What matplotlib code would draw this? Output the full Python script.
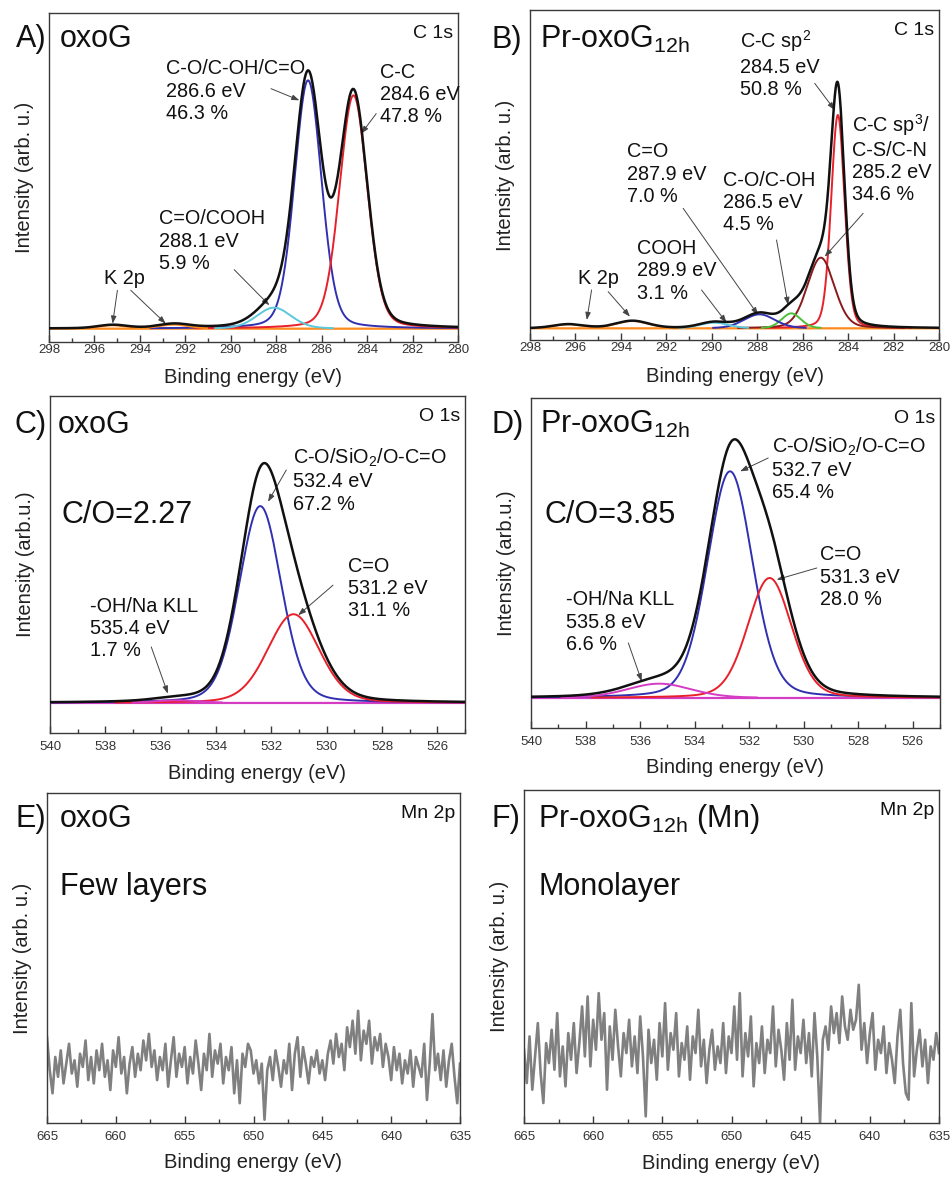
import numpy as np
import matplotlib
matplotlib.use('Agg')
import matplotlib.pyplot as plt
from matplotlib.ticker import MultipleLocator

plt.rcParams['font.family'] = ['Liberation Sans', 'DejaVu Sans']
plt.rcParams['mathtext.fontset'] = 'custom'
plt.rcParams['mathtext.rm'] = 'Liberation Sans'
plt.rcParams['mathtext.it'] = 'Liberation Sans:italic'
plt.rcParams['mathtext.bf'] = 'Liberation Sans:bold'

# ---------------- DATA ----------------
# Panel A (oxoG, C 1s): fitted components  [C-O/C-OH/C=O, C-C, C=O/COOH, K2p a, K2p b]
a_centers = [286.6, 284.6, 288.1, 295.2, 292.5]
a_heights = [745, 700, 63, 10, 12]
a_fwhm = [1.4, 1.45, 1.8, 1.5, 1.6]

# Panel B (Pr-oxoG12h, C 1s): [sp2, sp3/C-S/C-N, C-O/C-OH, C=O, COOH, K2p a, K2p b]
b_centers = [284.45, 285.2, 286.5, 287.9, 289.9, 296.3, 293.5]
b_heights = [640, 212, 45, 42, 17, 12, 22]
b_fwhm = [0.7, 1.4, 1.0, 1.6, 1.5, 1.6, 1.7]

# Panel C (oxoG, O 1s): [C-O/SiO2/O-C=O, C=O, -OH/Na KLL]
c_centers = [532.4, 531.2, 535.4]
c_heights = [590, 266, 8]
c_fwhm = [1.8, 2.2, 2.0]

# Panel D (Pr-oxoG12h, O 1s): [C-O/SiO2/O-C=O, C=O, -OH/Na KLL]
d_centers = [532.7, 531.25, 535.3]
d_heights = [680, 360, 43]
d_fwhm = [1.95, 1.9, 2.8]

# Panel E (oxoG, Mn 2p) noise spectrum, 665 -> 635 eV in 0.2 eV steps
e_intensity = [
    0.26, 0.16, 0.09, 0.20, 0.14, 0.22, 0.12, 0.18, 0.24, 0.15,
    0.19, 0.11, 0.21, 0.17, 0.25, 0.13, 0.20, 0.12, 0.22, 0.16,
    0.24, 0.14, 0.19, 0.10, 0.22, 0.17, 0.26, 0.15, 0.20, 0.09,
    0.18, 0.23, 0.14, 0.21, 0.16, 0.25, 0.19, 0.27, 0.17, 0.22,
    0.13, 0.20, 0.16, 0.24, 0.11, 0.19, 0.26, 0.14, 0.21, 0.17,
    0.23, 0.12, 0.20, 0.15, 0.25, 0.18, 0.10, 0.21, 0.16, 0.27,
    0.14, 0.22, 0.18, 0.24, 0.12, 0.20, 0.16, 0.23, 0.09, 0.19,
    0.06, 0.21, 0.17, 0.24, 0.22, 0.15, 0.19, 0.12, 0.18, 0.01,
    0.16, 0.20, 0.13, 0.22, 0.17, 0.11, 0.19, 0.15, 0.24, 0.10,
    0.21, 0.26, 0.14, 0.23, 0.18, 0.12, 0.20, 0.17, 0.22, 0.15,
    0.19, 0.13, 0.21, 0.25, 0.18, 0.27, 0.20, 0.24, 0.16, 0.29,
    0.23, 0.31, 0.21, 0.34, 0.19, 0.28, 0.24, 0.31, 0.18, 0.26,
    0.22, 0.27, 0.17, 0.24, 0.20, 0.13, 0.23, 0.16, 0.21, 0.12,
    0.19, 0.15, 0.22, 0.11, 0.20, 0.17, 0.14, 0.24, 0.07, 0.18,
    0.33, 0.16, 0.21, 0.13, 0.22, 0.11, 0.19, 0.24, 0.14, 0.06, 0.18]

# Panel F (Pr-oxoG12h (Mn), Mn 2p) noise spectrum, 665 -> 635 eV in 0.2 eV steps
f_intensity = [
    0.22, 0.12, 0.26, 0.10, 0.20, 0.30, 0.15, 0.06, 0.24, 0.18,
    0.28, 0.16, 0.33, 0.14, 0.23, 0.11, 0.27, 0.19, 0.30, 0.15,
    0.24, 0.35, 0.20, 0.38, 0.17, 0.31, 0.22, 0.39, 0.25, 0.33,
    0.10, 0.29, 0.19, 0.34, 0.23, 0.14, 0.27, 0.21, 0.31, 0.17,
    0.26, 0.15, 0.32, 0.20, 0.02, 0.28, 0.18, 0.25, 0.13, 0.30,
    0.20, 0.36, 0.16, 0.27, 0.22, 0.33, 0.14, 0.24, 0.19, 0.29,
    0.13, 0.26, 0.21, 0.34, 0.17, 0.25, 0.12, 0.22, 0.28, 0.16,
    0.23, 0.18, 0.30, 0.15, 0.26, 0.21, 0.35, 0.19, 0.39, 0.14,
    0.27, 0.20, 0.32, 0.11, 0.24, 0.18, 0.29, 0.15, 0.25, 0.21,
    0.35, 0.17, 0.28, 0.22, 0.13, 0.30, 0.19, 0.37, 0.16, 0.26,
    0.21, 0.31, 0.18, 0.27, 0.14, 0.33, 0.20, 0.00, 0.25, 0.29,
    0.22, 0.35, 0.27, 0.33, 0.24, 0.38, 0.29, 0.25, 0.34, 0.28,
    0.31, 0.415, 0.22, 0.30, 0.18, 0.27, 0.33, 0.16, 0.25, 0.21,
    0.29, 0.15, 0.24, 0.19, 0.12, 0.26, 0.34, 0.18, 0.09, 0.07,
    0.36, 0.14, 0.22, 0.28, 0.17, 0.25, 0.12, 0.23, 0.19, 0.27, 0.21]
mn_start, mn_step = 665.0, -0.2

# ---------------- STYLE ----------------
BLK = '#111111'
BLUE = '#3030b0'
RED = '#e8202a'
CYAN = '#5cc8dc'
ORANGE = '#ff8a1c'
DRED = '#8b1a1a'
GREEN = '#4cc03a'
MAG = '#d43cc4'
GREY = '#808080'
FRAME = '#3a3a3a'

a_colors = [BLUE, RED, CYAN, ORANGE, ORANGE]
b_colors = [RED, DRED, GREEN, BLUE, CYAN, ORANGE, ORANGE]
c_colors = [BLUE, RED, MAG]
d_colors = [BLUE, RED, MAG]

ANN_FS = 14.3
LAB_FS = 14.5
TICK_FS = 9.5
BIG_FS = 22
CORNER_FS = 14


def pv(x, c, h, w, eta=0.2):
    s = w / 2.3548
    g = np.exp(-0.5 * ((x - c) / s) ** 2)
    l = 1.0 / (1.0 + ((x - c) / (w / 2.0)) ** 2)
    return h * (eta * l + (1 - eta) * g)


fig = plt.figure(figsize=(9.5, 11.77), dpi=100)
W, H = 950.0, 1177.0


def add_ax(left, top, right, bottom):
    return fig.add_axes([left / W, 1 - bottom / H, (right - left) / W, (bottom - top) / H])


def setup(ax, xlim, ylim, major, minor, pad, xlab_y, ylabel):
    ax.set_xlim(*xlim)
    ax.set_ylim(*ylim)
    ax.xaxis.set_major_locator(MultipleLocator(major))
    ax.xaxis.set_minor_locator(MultipleLocator(minor))
    ax.tick_params(axis='x', which='both', direction='in', top=False,
                   labelsize=TICK_FS, pad=pad, color=FRAME, labelcolor='#333333')
    ax.tick_params(axis='x', which='major', length=5, width=1)
    ax.tick_params(axis='x', which='minor', length=3, width=1)
    ax.set_yticks([])
    for sp in ax.spines.values():
        sp.set_color(FRAME)
        sp.set_linewidth(1.0)
    ax.set_xlabel('Binding energy (eV)', fontsize=LAB_FS, color='#222222')
    ax.xaxis.set_label_coords(0.5, xlab_y)
    ax.xaxis.label.set_va('center')
    ax.set_ylabel(ylabel, fontsize=LAB_FS, color='#222222')
    ax.yaxis.set_label_coords(-0.06, 0.5)
    ax.yaxis.label.set_va('center')


def titles(ax, letter, lx, name, nx, ny, corner):
    ax.text(lx, ny, letter, transform=ax.transAxes, fontsize=BIG_FS, va='baseline',
            ha='left', clip_on=False, color='#111111')
    ax.text(nx, ny, name, transform=ax.transAxes, fontsize=BIG_FS, va='baseline',
            ha='left', color='#111111')
    ax.text(0.988, 0.965, corner, transform=ax.transAxes, fontsize=CORNER_FS,
            va='top', ha='right', color='#111111')


ARROW = dict(arrowstyle='-|>,head_length=0.45,head_width=0.16',
             color='#444444', lw=0.7, shrinkA=0, shrinkB=0)


def ann(ax, text, txy, tail, head):
    ax.text(txy[0], txy[1], text, fontsize=ANN_FS, va='top', ha='left',
            linespacing=1.22, color='#111111')
    ax.annotate('', xy=head, xytext=tail, arrowprops=ARROW)


def fit_panel(ax, xlim, centers, heights, fwhm, colors, base_color, thresh=1.5):
    x = np.linspace(min(xlim), max(xlim), 1501)
    total = np.zeros_like(x)
    ax.plot(x, np.zeros_like(x), color=base_color, lw=1.6, zorder=2)
    for c, h, w, col in zip(centers, heights, fwhm, colors):
        y = pv(x, c, h, w)
        total += y
        yy = np.where(y > thresh, y, np.nan)
        ax.plot(x, yy, color=col, lw=1.4, zorder=3)
    ax.plot(x, total, color=BLK, lw=1.8, zorder=4)


# ---------------- Panel A ----------------
axA = add_ax(49, 13, 458, 342)
setup(axA, (298, 280), (-40, 947), 2, 1, 1.5, -0.108, 'Intensity (arb. u.)')
fit_panel(axA, (298, 280), a_centers, a_heights, a_fwhm, a_colors, ORANGE)
titles(axA, 'A)', -0.08, 'oxoG', 0.026, 0.897, 'C 1s')
ann(axA, 'C-O/C-OH/C=O\n286.6 eV\n46.3 %', (292.86, 808), (288.23, 720), (286.98, 685))
ann(axA, 'C-C\n284.6 eV\n47.8 %', (283.45, 798), (283.6, 645), (284.26, 585))
ann(axA, 'C=O/COOH\n288.1 eV\n5.9 %', (293.15, 358), (289.85, 177), (288.30, 70))
ann(axA, 'K 2p', (295.58, 178), (294.99, 115), (295.2, 15))
axA.annotate('', xy=(292.86, 15), xytext=(294.4, 115), arrowprops=ARROW)

# ---------------- Panel B ----------------
axB = add_ax(530, 10, 939, 340)
setup(axB, (298, 280), (-35, 955), 2, 1, 1.5, -0.112, 'Intensity (arb. u.)')
fit_panel(axB, (298, 280), b_centers, b_heights, b_fwhm, b_colors, ORANGE)
titles(axB, 'B)', -0.094, 'Pr-oxoG$_{\\mathregular{12h}}$', 0.024, 0.884, 'C 1s')
ann(axB, 'C-C sp$^{\\mathregular{2}}$\n284.5 eV\n50.8 %', (288.77, 900), (285.47, 735), (284.59, 655))
ann(axB, 'C-C sp$^{\\mathregular{3}}$/\nC-S/C-N\n285.2 eV\n34.6 %', (283.85, 650), (283.34, 345), (285.03, 215))
ann(axB, 'C=O\n287.9 eV\n7.0 %', (293.75, 558), (291.26, 360), (287.96, 40))
ann(axB, 'C-O/C-OH\n286.5 eV\n4.5 %', (289.5, 473), (287.15, 265), (286.64, 70))
ann(axB, 'COOH\n289.9 eV\n3.1 %', (293.31, 268), (290.45, 115), (289.35, 17))
ann(axB, 'K 2p', (295.87, 178), (295.29, 115), (295.5, 25))
axB.annotate('', xy=(293.6, 35), xytext=(294.56, 110), arrowprops=ARROW)

# ---------------- Panel C ----------------
axC = add_ax(50, 396, 465, 733)
setup(axC, (540, 525), (-90, 920), 2, 1, 6, -0.119, 'Intensity (arb.u.)')
fit_panel(axC, (540, 525), c_centers, c_heights, c_fwhm, c_colors, MAG)
titles(axC, 'C)', -0.086, 'oxoG', 0.0185, 0.889, 'O 1s')
axC.text(539.6, 540, 'C/O=2.27', fontsize=BIG_FS, va='baseline', ha='left', color='#111111')
ann(axC, 'C-O/SiO$_{\\mathregular{2}}$/O-C=O\n532.4 eV\n67.2 %', (531.21, 768), (531.46, 698), (532.12, 603))
ann(axC, 'C=O\n531.2 eV\n31.1 %', (529.22, 438), (529.77, 353), (531.03, 263))
ann(axC, '-OH/Na KLL\n535.4 eV\n1.7 %', (538.55, 318), (536.34, 168), (535.74, 28))

# ---------------- Panel D ----------------
axD = add_ax(531, 398, 940, 728)
setup(axD, (540, 525), (-90, 900), 2, 1, 6, -0.121, 'Intensity (arb.u.)')
fit_panel(axD, (540, 525), d_centers, d_heights, d_fwhm, d_colors, MAG)
titles(axD, 'D)', -0.096, 'Pr-oxoG$_{\\mathregular{12h}}$', 0.022, 0.894, 'O 1s')
axD.text(539.49, 525, 'C/O=3.85', fontsize=BIG_FS, va='baseline', ha='left', color='#111111')
ann(axD, 'C-O/SiO$_{\\mathregular{2}}$/O-C=O\n532.7 eV\n65.4 %', (531.17, 788), (531.30, 720), (532.33, 680))
ann(axD, 'C=O\n531.3 eV\n28.0 %', (529.4, 458), (529.52, 390), (530.99, 355))
ann(axD, '-OH/Na KLL\n535.8 eV\n6.6 %', (538.73, 323), (536.43, 165), (535.94, 50))

# ---------------- Panel E ----------------
axE = add_ax(47, 793, 460, 1123)
setup(axE, (665, 635), (0, 1), 5, 2.5, 6, -0.121, 'Intensity (arb. u.)')
e_x = mn_start + mn_step * np.arange(len(e_intensity))
axE.plot(e_x, e_intensity, color=GREY, lw=1.9)
titles(axE, 'E)', -0.077, 'oxoG', 0.031, 0.897, 'Mn 2p')
axE.text(0.032, 0.69, 'Few layers', transform=axE.transAxes, fontsize=BIG_FS,
         va='baseline', ha='left', color='#111111')

# ---------------- Panel F ----------------
axF = add_ax(524, 790, 939, 1123)
setup(axF, (665, 635), (0, 1), 5, 2.5, 6, -0.121, 'Intensity (arb. u.)')
f_x = mn_start + mn_step * np.arange(len(f_intensity))
axF.plot(f_x, f_intensity, color=GREY, lw=1.9)
titles(axF, 'F)', -0.079, 'Pr-oxoG$_{\\mathregular{12h}}$ (Mn)', 0.034, 0.89, 'Mn 2p')
axF.text(0.034, 0.685, 'Monolayer', transform=axF.transAxes, fontsize=BIG_FS,
         va='baseline', ha='left', color='#111111')

fig.savefig('out.png', dpi=100)
